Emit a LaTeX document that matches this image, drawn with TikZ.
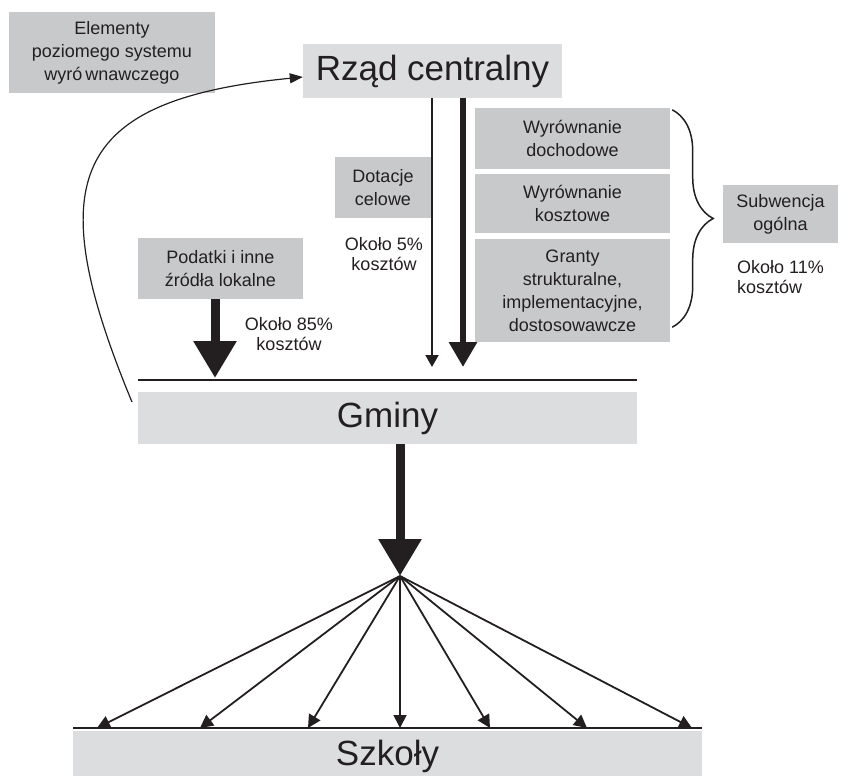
\documentclass[tikz,border=0pt]{standalone}
\usepackage{fontspec}
\setmainfont{Liberation Sans}
\usetikzlibrary{arrows.meta,decorations.pathreplacing}
\definecolor{boxdark}{RGB}{200,201,203}
\definecolor{boxlight}{RGB}{220,221,223}
\definecolor{ink}{RGB}{35,31,32}
\tikzset{
	darkbox/.style={fill=boxdark, text=ink, inner sep=0pt, align=center, font=\fontsize{18}{23}\selectfont},
	lightbox/.style={fill=boxlight, text=ink, inner sep=0pt, align=center, font=\fontsize{35}{40}\selectfont},
	note/.style={text=ink, inner sep=0pt, font=\fontsize{18}{20}\selectfont},
	fatarrow/.style={draw=ink, line width=9pt, -{Triangle[width=41pt,length=37pt]}},
	midarrow/.style={draw=ink, line width=6pt, -{Triangle[width=27pt,length=25pt]}},
	slimarrow/.style={draw=ink, line width=2pt, -{Triangle[width=13pt,length=12pt]}},
	fanarrow/.style={draw=ink, line width=1.8pt, -{Triangle[width=13pt,length=13pt]}},
	baseline/.style={draw=ink, line width=2pt}
}

\begin{document}
\begin{tikzpicture}[x=1pt, y=-1pt]
	\useasboundingbox (0,0) rectangle (851,776);
	\clip (0,0) rectangle (851,776);

	%top row: central government and the equalisation label
	\node[darkbox, minimum width=206pt, minimum height=81pt] (elementy) at (112,52.5) {Elementy\\poziomego systemu\\wyró\hspace{3pt}wnawczego};
	\node[lightbox, minimum width=259pt, minimum height=54pt] (rzad) at (432.5,71) {Rząd centralny};

	%grants coming down from the centre
	\node[darkbox, minimum width=96pt, minimum height=61pt] (dotacje) at (383,187.5) {Dotacje\\celowe};
	\node[note, align=center] (okolo5) at (384,254.5) {Około 5\%\\kosztów};
	\node[darkbox, minimum width=195pt, minimum height=61pt] (wyrdoch) at (572.5,138.5) {Wyrównanie\\dochodowe};
	\node[darkbox, minimum width=195pt, minimum height=59pt] (wyrkoszt) at (572.5,203.5) {Wyrównanie\\kosztowe};
	\node[darkbox, minimum width=195pt, minimum height=103pt] (granty) at (572.5,290.5) {Granty\\strukturalne,\\implementacyjne,\\dostosowawcze};
	\node[darkbox, minimum width=115pt, minimum height=58pt] (subwencja) at (780.5,214) {Subwencja\\ogólna};
	\node[note, align=left, anchor=west] (okolo11) at (737,277) {Około 11\%\\kosztów};

	%brace grouping the three parts of the general subsidy
	\draw[draw=ink, line width=1.5pt, decorate, decoration={brace, amplitude=41pt}]
		([xshift=2pt, yshift=-2pt]wyrdoch.north east) -- ([xshift=2pt, yshift=15pt]granty.south east);

	%local sources
	\node[darkbox, minimum width=165pt, minimum height=61pt] (podatki) at (220.5,268.5) {Podatki i inne\\źródła lokalne};
	\node[note, align=center] (okolo85) at (289,334) {Około 85\%\\kosztów};

	%municipalities
	\node[lightbox, minimum width=499pt, minimum height=52pt] (gminy) at (387.5,418) {Gminy};
	\coordinate (gminyleft) at (138,380);
	\coordinate (gminyright) at (637,380);
	\draw[baseline] (gminyleft) -- (gminyright);

	%flows into the municipalities
	\coordinate (podatkiend) at (215,378);
	\coordinate (dotacjeend) at (432,367);
	\coordinate (subwend) at (463,367);
	\draw[fatarrow] (podatki.south -| podatkiend) -- (podatkiend);
	\draw[slimarrow] (rzad.south -| dotacjeend) -- (dotacjeend);
	\draw[midarrow] (rzad.south -| subwend) -- (subwend);

	%equalisation loop back to the centre
	\coordinate (loopstart) at (132,402);
	\draw[draw=ink, line width=1.2pt, -{Triangle[width=10pt,length=13pt]}]
		(loopstart) .. controls (40,180) and (70,100) .. ([yshift=-6pt]rzad.west);

	%schools
	\node[lightbox, minimum width=629pt, minimum height=50pt] (szkoly) at (387.5,756) {Szkoły};
	\coordinate (szkolyleft) at (73,728);
	\coordinate (szkolyright) at (702,728);
	\draw[baseline] (szkolyleft) -- (szkolyright);

	%one flow down and the fan out to the schools
	\coordinate (apex) at (400,576);
	\draw[fatarrow] (gminy.south -| apex) -- (apex);
	\foreach \sx [count=\i] in {97,200,308,400,490,587,692}{
		\coordinate (school\i) at (\sx,728);
		\draw[fanarrow] (apex) -- (school\i);
	}
\end{tikzpicture}
\end{document}
